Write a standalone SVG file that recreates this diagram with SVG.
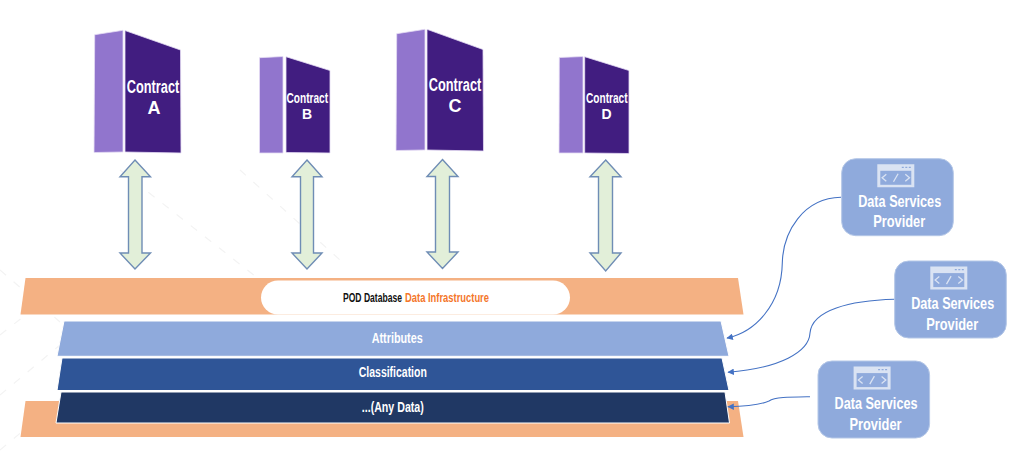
<svg xmlns="http://www.w3.org/2000/svg" width="1020" height="474" viewBox="0 0 1020 474">
<style>
text{font-family:"Liberation Sans",Arial,sans-serif;font-weight:700;text-anchor:middle;fill:#fff}
.light{fill:#9175cd;stroke:#e4dcf4;stroke-width:.8}
.dark{fill:#411d80;stroke:#e4dcf4;stroke-width:.8}
.big{font-size:18px}
.small{font-size:14px}
.dbl{fill:#e2efd9;stroke:#6f8db5;stroke-width:1.4;stroke-linejoin:miter}
.orange{fill:#f4b183}
.band{stroke:#fff;stroke-width:1}
.layer{font-size:14px}
.svc{fill:#8faadc;stroke:#b4c7e7;stroke-width:1}
.svct{font-size:17px}
.conn{fill:none;stroke:#4472c4;stroke-width:1.1;marker-end:url(#arr)}
.deco{stroke:#f3f3f3;stroke-width:1.2;fill:none;stroke-dasharray:8 10}
</style>
<defs>
<marker id="arr" viewBox="0 0 10 10" refX="9" refY="5" markerWidth="7" markerHeight="6.5" markerUnits="userSpaceOnUse" orient="auto"><path d="M0,0 L10,5 L0,10 Z" fill="#4472c4"/></marker>
<g id="ico">
<path d="M0,0H37V23H0Z" fill="#dae3f3"/>
<path d="M3,6.5H34V20.500H3Z" fill="#8faadc"/>
<path d="M9,10L4.800,13.500L9,17M28,10L32.200,13.500L28,17M20.800,9.500L16.200,17.500" fill="none" stroke="#dae3f3" stroke-width="1.300"/>
<path d="M24.500,3H26.500M28,3H30M31.500,3H33.500" stroke="#8faadc" stroke-width="1.200"/>
</g>
</defs>
<rect width="1020" height="474" fill="#fff"/>
<g id="background">
<path class="deco" d="M0,270L60,322M0,335L70,280M0,395L60,345M0,450L60,400M120,170L260,280M240,170L340,260"/>
</g>
<g id="band-pod">
<path class="orange" d="M25.500,278H738L743.500,314.500H20.500Z"/>
<path class="orange" d="M25.500,401H738L743.500,437H20.500Z"/>
<rect x="261" y="280.500" width="309" height="34" rx="17" fill="#fff"/>
<text x="416" y="302.300" font-size="13.500" style="fill:#111"><tspan x="372.500" textLength="59" lengthAdjust="spacingAndGlyphs">POD Database</tspan><tspan x="447" textLength="84" lengthAdjust="spacingAndGlyphs" style="fill:#f4762a">Data Infrastructure</tspan></text>
</g>
<g id="layer-attributes">
<path class="band" fill="#8faadc" d="M64,321H721L729,356.300H57Z"/>
<text class="layer" x="397.200" y="343.300" textLength="51" lengthAdjust="spacingAndGlyphs">Attributes</text>
</g>
<g id="layer-classification">
<path class="band" fill="#2f5597" d="M62,358H722L729,390.500H57Z"/>
<text class="layer" x="392.800" y="377" textLength="68" lengthAdjust="spacingAndGlyphs">Classification</text>
</g>
<g id="layer-any">
<path class="band" fill="#203864" d="M61,392H725L729.500,423H56Z"/>
<text class="layer" x="392.800" y="411.700" textLength="62" lengthAdjust="spacingAndGlyphs">...(Any Data)</text>
</g>
<g id="contract-a">
<path class="light" d="M94.700,34.700L123,30.300V152L94,152.500Z"/>
<path class="dark" d="M125,30.500L180.500,50L181,153L125,152Z"/>
<text class="big" x="153" y="92.700" textLength="52.500" lengthAdjust="spacingAndGlyphs">Contract</text>
<text class="big" x="154" y="114">A</text>
</g>
<g id="contract-b">
<path class="light" d="M259.500,57.700L283,56.500V153H259.500Z"/>
<path class="dark" d="M286,56.700L330,70.500V153L286,152.500Z"/>
<text class="small" x="307.300" y="103" textLength="41.500" lengthAdjust="spacingAndGlyphs">Contract</text>
<text class="small" x="307" y="119">B</text>
</g>
<g id="contract-c">
<path class="light" d="M396.700,33.700L425,29.300V150L396,150.500Z"/>
<path class="dark" d="M427,29.300L483,49.500L483.500,151L427,150Z"/>
<text class="big" x="455" y="90.700" textLength="52.500" lengthAdjust="spacingAndGlyphs">Contract</text>
<text class="big" x="455" y="111.700">C</text>
</g>
<g id="contract-d">
<path class="light" d="M559.300,57.500L583,56.500V153H559Z"/>
<path class="dark" d="M584.700,56.700L629,70.500V153.500L584.700,153Z"/>
<text class="small" x="606.800" y="103" textLength="41.500" lengthAdjust="spacingAndGlyphs">Contract</text>
<text class="small" x="606.500" y="119">D</text>
</g>
<g id="connectors">
<path class="dbl" d="M135,160L150.500,176.700H142V253H150.500L135,269L120,253H128.500V176.700H120Z"/>
<path class="dbl" d="M307,160L322,176.700H313.500V253H322L307,269L292,253H300.500V176.700H292Z"/>
<path class="dbl" d="M442.500,159.500L458,176.500H449.500V252H458L442.500,268.500L427,252H435.500V176.500H427Z"/>
<path class="dbl" d="M605.700,160L621,176.700H612.500V253H621L605.700,271L590,253H598.500V176.700H590Z"/>
<path class="conn" d="M841,197.300C803,198 783,232 782.300,263C781.500,305 755,332 727,338"/>
<path class="conn" d="M894.700,299.300C850,300.500 812,310 810,333C809,352 780,368 728,372.300"/>
<path class="conn" d="M810,396.700C790,397 775,397 769,401C760,405 745,406.500 728,406.700"/>
</g>
<g id="service-1">
<rect class="svc" x="841.700" y="158.700" width="111.600" height="77" rx="14"/>
<use href="#ico" x="877.300" y="164.300"/>
<text class="svct" x="899.700" y="206.700" textLength="83" lengthAdjust="spacingAndGlyphs">Data Services</text>
<text class="svct" x="899.200" y="227.300" textLength="52" lengthAdjust="spacingAndGlyphs">Provider</text>
</g>
<g id="service-2">
<rect class="svc" x="894.700" y="261" width="111.600" height="77" rx="14"/>
<use href="#ico" x="930.300" y="266.600"/>
<text class="svct" x="952.700" y="309" textLength="83" lengthAdjust="spacingAndGlyphs">Data Services</text>
<text class="svct" x="952.200" y="329.600" textLength="52" lengthAdjust="spacingAndGlyphs">Provider</text>
</g>
<g id="service-3">
<rect class="svc" x="818" y="361" width="111.600" height="77" rx="14"/>
<use href="#ico" x="853.600" y="366.600"/>
<text class="svct" x="876" y="409" textLength="83" lengthAdjust="spacingAndGlyphs">Data Services</text>
<text class="svct" x="875.500" y="429.600" textLength="52" lengthAdjust="spacingAndGlyphs">Provider</text>
</g>
</svg>
